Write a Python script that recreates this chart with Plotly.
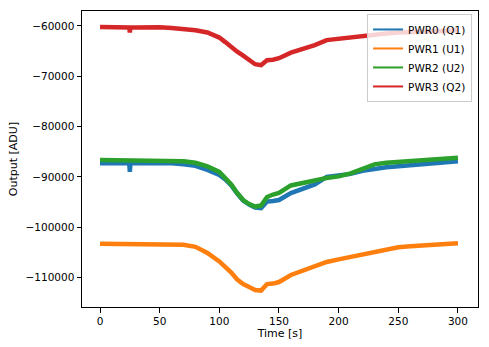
import plotly.graph_objects as go

time_s = [0, 10, 20, 24.5, 25, 25.5, 30, 40, 50, 60, 70, 80, 90, 100, 105, 110, 115, 120, 125,
          130, 135, 140, 145, 150, 160, 170, 180, 190, 200, 210, 220, 230, 240, 250, 260,
          270, 280, 290, 300]

pwr0_q1 = [-87300, -87300, -87300, -87300, -89000, -87300, -87300, -87250, -87200, -87300,
           -87500, -87800, -88600, -89600, -90500, -91700, -93300, -94700, -95500,
           -96100, -96200, -94900, -94800, -94600, -93200, -92300, -91500, -90000, -89700,
           -89400, -88800, -88400, -88100, -87900, -87800, -87500, -87300, -87100, -86900]

pwr1_u1 = [-103300, -103300, -103400, -103400, -103400, -103400, -103350, -103300, -103300,
           -103350, -103500, -103900, -105100, -106800, -107800, -109000, -110400, -111300,
           -111900, -112500, -112600, -111300, -111200, -110900, -109500, -108600, -107800,
           -106900, -106400, -105900, -105300, -104800, -104300, -104000, -103800, -103600,
           -103500, -103400, -103200]

pwr2_u2 = [-86650, -86700, -86700, -86700, -86700, -86700, -86700, -86700, -86700, -86750,
           -86900, -87200, -87900, -89000, -90200, -91500, -93200, -94600, -95400,
           -95900, -95700, -94000, -93500, -93200, -91700, -91100, -90700, -90200, -89900,
           -89300, -88300, -87500, -87200, -87000, -86900, -86700, -86500, -86300, -86200]

pwr3_q2 = [-60200, -60250, -60300, -60300, -61300, -60300, -60300, -60250, -60250, -60400,
           -60550, -60850, -61300, -62300, -63200, -64200, -65100, -65900, -66800,
           -67600, -67800, -66800, -66700, -66400, -65300, -64600, -63800, -62800, -62500,
           -62300, -61900, -61700, -61500, -61300, -61200, -61100, -61000, -60900, -60900]

series = [
    ("PWR0 (Q1)", pwr0_q1, "#1f77b4"),
    ("PWR1 (U1)", pwr1_u1, "#ff7f0e"),
    ("PWR2 (U2)", pwr2_u2, "#2ca02c"),
    ("PWR3 (Q2)", pwr3_q2, "#d62728"),
]

fig = go.Figure()
for name, vals, col in series:
    fig.add_trace(go.Scatter(x=time_s, y=vals, mode="lines", name=name, showlegend=False,
                             line=dict(color=col, width=4.5)))
# thin legend samples (matplotlib-style)
for name, vals, col in series:
    fig.add_trace(go.Scatter(x=[None], y=[None], mode="lines", name=name,
                             line=dict(color=col, width=2)))

axis_common = dict(showline=True, linecolor="black", linewidth=1, mirror=True,
                   ticks="outside", ticklen=4.5, tickcolor="black", tickwidth=1,
                   showgrid=False, zeroline=False, automargin=False,
                   tickfont=dict(family="DejaVu Sans", size=10.5, color="black"),
                   title_font=dict(family="DejaVu Sans", size=11, color="black"))

fig.update_layout(
    width=489, height=347,
    margin=dict(l=82, r=11, t=11, b=40),
    paper_bgcolor="white", plot_bgcolor="white",
    font=dict(family="DejaVu Sans", size=10.5, color="black"),
    xaxis=dict(range=[-15.1, 316.8], tickvals=[0, 50, 100, 150, 200, 250, 300],
               title=dict(text="Time [s]", standoff=3), **axis_common),
    yaxis=dict(range=[-115860, -57020],
               tickvals=[-60000, -70000, -80000, -90000, -100000, -110000],
               tickformat="d",
               title=dict(text="Output [ADU]", standoff=5), **axis_common),
    legend=dict(x=0.985, y=0.99, xanchor="right", yanchor="top",
                bgcolor="rgba(255,255,255,0.8)", bordercolor="#cccccc", borderwidth=1,
                font=dict(family="DejaVu Sans", size=10.5, color="black"),
                itemwidth=30, tracegroupgap=0),
    showlegend=True,
)

fig.write_html("out.html")
